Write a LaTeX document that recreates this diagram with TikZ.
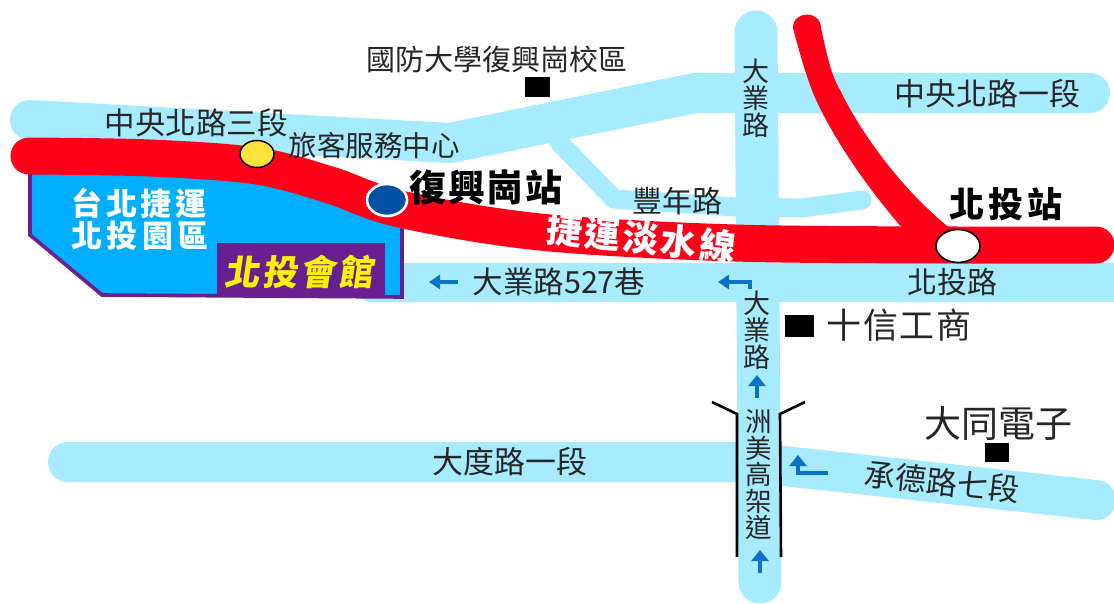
\documentclass[tikz,border=0pt]{standalone}
\usepackage{fontspec}
\setmainfont{Noto Sans CJK TC}
\usetikzlibrary{arrows.meta,shapes.geometric}
\definecolor{road}{HTML}{A6EBFF}
\definecolor{rail}{HTML}{FF0019}
\definecolor{park}{HTML}{00AEFF}
\definecolor{hall}{HTML}{6A1F91}
\definecolor{arrowblue}{HTML}{0B72C8}
\definecolor{stationblue}{HTML}{0050A5}
\definecolor{stationyellow}{HTML}{FFE03C}
\newcommand{\fs}[1]{\fontsize{#1}{#1}\selectfont}
\tikzset{
  roadline/.style={draw=road,line width=#1,line cap=round,line join=round},
  railline/.style={draw=rail,line width=37pt,line cap=round,line join=round},
  lab/.style={inner sep=0pt,text=black!85,font=\fs{#1}},
  vlab/.style={inner sep=0pt,align=center,text=black!85,font=\fs{#1}},
  boldlab/.style={inner sep=0pt,text=black},
  dirarrow/.style={draw=arrowblue,line width=4.5pt,-{Triangle[length=11pt,width=17pt]}},
  flatarrow/.style={draw=arrowblue,line width=4pt,-{Triangle[length=11pt,width=14pt]}},
  marker/.style={fill=black,inner sep=0pt,draw=none},
  station/.style={ellipse,inner sep=0pt,minimum width=#1},
  viaduct/.style={draw=black,line width=2.6pt,line join=miter},
}
\begin{document}
\begin{tikzpicture}[x=1pt,y=-1pt]
\useasboundingbox (0,0) rectangle (1114,603);
\fill[white] (0,0) rectangle (1114,603);
% roads
\draw[roadline=40pt] (30,120) -- (450,143) -- (695,93) -- (1090,93);
\draw[roadline=19pt,line cap=round] (559,142) -- (614,199) -- (735,207) -- (802,208) -- (862,200);
\fill[road] (375,263) rectangle (1114,302);
\fill[road,rounded corners=8pt] (362,280) -- (362,302) -- (420,302) -- (420,280) -- cycle;
\draw[roadline=40pt] (68,462) -- (745,462);
\draw[roadline=40pt] (775,465) -- (1096,500);
\draw[roadline=43pt] (756,32) -- (760,582);
% park
\draw[fill=park,draw=hall,line width=3.6pt,line join=miter]
  (30,160) -- (30,235) -- (102,295) -- (402,297) -- (402,205) -- (250,165) -- cycle;
\fill[hall] (217,243) rectangle (385,297);
% rail
\fill[rail] (793,28) .. controls (793,10) and (821,10) .. (821,28)
  .. controls (827,55) and (831,75) .. (840,90)
  .. controls (862,135) and (902,190) .. (952,230) -- (904,230)
  .. controls (873,195) and (833,140) .. (813,93)
  .. controls (806,75) and (800,55) .. (793,28) -- cycle;
\draw[railline] plot[smooth,tension=0.55] coordinates {(29,156) (150,158) (257,166) (330,185) (400,209) (540,232) (735,243) (958,245) (1096,245)};
% stations
\node[station=34pt,minimum height=27pt,fill=stationyellow,draw=black,line width=1.5pt] (yellow) at (257,154) {};
\node[station=40pt,minimum height=32pt,fill=stationblue,draw=white,line width=2.6pt] (fuxing) at (387,200) {};
\node[station=44pt,minimum height=33pt,fill=white,draw=black,line width=1.6pt] (beitou) at (958,246) {};
% viaduct
\draw[viaduct] (712,402) -- (737,414) -- (737,557);
\draw[viaduct] (805,402) -- (780,414) -- (781,557);
% markers
\node[marker,minimum width=25pt,minimum height=20pt] (m1) at (537.5,87) {};
\node[marker,minimum width=29pt,minimum height=22pt] (m2) at (799.5,326) {};
\node[marker,minimum width=24pt,minimum height=19pt] (m3) at (997,452.5) {};
% arrows
\draw[flatarrow] (458,282) -- (429,282);
\draw[flatarrow] (750,289) -- (750,282) -- (718,282);
\draw[dirarrow] (757,398) -- (757,375);
\draw[dirarrow] (760,573) -- (760,550);
\draw[dirarrow] (828,473) -- (798,473) -- (798,455);
% labels
\node[lab=29] (t1) at (497,59) {國防大學復興崗校區};
\node[lab=30.5] (t2) at (196,123) {中央北路三段};
\node[lab=28.5] (t3) at (374,146) {旅客服務中心};
\node[boldlab,anchor=west,font=\fs{37}\bfseries\addfontfeature{LetterSpace=5}] (t4) at (409,188) {復興崗站};
\node[inner sep=0pt,text=white,font=\fs{31}\bfseries\addfontfeature{LetterSpace=12}] (t5) at (139,203) {台北捷運};
\node[inner sep=0pt,text=white,font=\fs{31}\bfseries\addfontfeature{LetterSpace=14}] (t6) at (140,236) {北投園區};
\node[inner sep=0pt,text=yellow,font=\fs{35}\bfseries\addfontfeature{LetterSpace=8},xslant=0.15] (t7) at (301,272) {北投會館};
\node[inner sep=0pt,text=white,rotate=-6,font=\fs{36}\bfseries\addfontfeature{LetterSpace=7}] (t8) at (641,238) {捷運淡水線};
\node[lab=30] (t9) at (677,201) {豐年路};
\node[vlab=27] (t10) at (756,98) {大\\業\\路};
\node[lab=31] (t11) at (987,94) {中央北路一段};
\node[boldlab,font=\fs{35}\bfseries\addfontfeature{LetterSpace=12}] (t12) at (1006,204) {北投站};
\node[lab=30] (t13) at (952,282) {北投路};
\node[lab=30.5] (t14) at (559,282) {大業路527巷};
\node[vlab=27] (t15) at (757,330) {大\\業\\路};
\node[vlab=26.5] (t16) at (759,475) {洲\\美\\高\\架\\道};
\node[inner sep=0pt,text=black!85,font=\fs{35}\addfontfeature{LetterSpace=4}] (t17) at (899,325) {十信工商};
\node[lab=37] (t18) at (998,423) {大同電子};
\node[lab=31] (t19) at (510,462) {大度路一段};
\node[lab=31,rotate=-6] (t20) at (942,482) {承德路七段};
\end{tikzpicture}
\end{document}
